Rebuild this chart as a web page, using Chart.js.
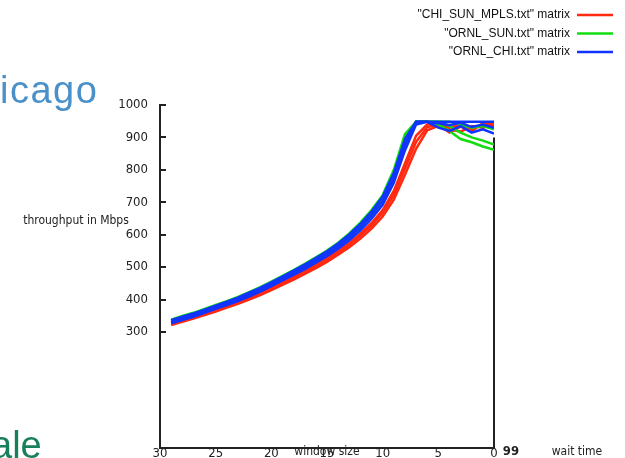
<!DOCTYPE html>
<html>
<head>
<meta charset="utf-8">
<script src="https://cdn.jsdelivr.net/npm/chart.js@4.4.1/dist/chart.umd.min.js"></script>
<style>
  body { margin: 0; background: #fff; }
  #wrap { width: 625px; height: 458px; overflow: hidden; }
</style>
</head>
<body>
<div id="wrap"><canvas id="myChart" width="625" height="458"></canvas></div>
<script>
// window size (x axis, drawn reversed: 30 on the left, 0 on the right)
const windowSizes = [29, 28, 27, 26, 25, 24, 23, 22, 21, 20, 19, 18, 17, 16, 15, 14, 13, 12, 11, 10, 9, 8, 7, 6, 5, 4, 3, 2, 1, 0];
const xTicks = [30, 25, 20, 15, 10, 5, 0];
const yTicks = [300, 400, 500, 600, 700, 800, 900, 1000];

// throughput in Mbps, a few rows (wait times) of each matrix
const chiSunMpls1 = [325, 335, 345, 356, 367, 379, 391, 404, 418, 433, 449, 466, 484, 503, 523, 545, 569, 597, 629, 668, 722, 804, 886, 932, 940, 915, 933, 926, 938, 944];
const chiSunMpls2 = [321, 331, 341, 352, 363, 375, 387, 400, 414, 429, 445, 461, 479, 497, 516, 538, 561, 588, 619, 656, 708, 785, 865, 922, 936, 925, 918, 935, 930, 940];
const chiSunMpls3 = [328, 338, 348, 359, 370, 382, 394, 407, 421, 437, 453, 470, 488, 507, 527, 549, 574, 603, 636, 676, 735, 820, 905, 940, 944, 930, 940, 920, 944, 935];

const ornlSun1 = [334, 345, 355, 367, 379, 391, 404, 419, 434, 451, 469, 487, 506, 526, 547, 571, 599, 631, 669, 714, 790, 898, 948, 948, 948, 935, 915, 900, 890, 878];
const ornlSun2 = [338, 349, 359, 371, 383, 395, 408, 423, 438, 455, 473, 491, 510, 530, 551, 575, 604, 637, 676, 722, 800, 910, 948, 948, 940, 920, 895, 885, 872, 862];
const ornlSun3 = [330, 341, 351, 363, 375, 387, 399, 414, 429, 446, 464, 481, 500, 520, 540, 564, 591, 622, 659, 703, 772, 875, 948, 948, 948, 948, 940, 930, 935, 925];

const ornlChi1 = [331, 342, 352, 364, 376, 388, 400, 415, 430, 447, 465, 482, 501, 521, 541, 565, 592, 623, 660, 705, 775, 878, 948, 948, 948, 948, 948, 948, 948, 948];
const ornlChi2 = [336, 347, 357, 369, 381, 393, 406, 421, 436, 453, 471, 489, 508, 528, 549, 573, 601, 633, 671, 718, 790, 895, 948, 948, 944, 938, 946, 932, 940, 930];
const ornlChi3 = [327, 337, 347, 359, 371, 383, 395, 409, 424, 441, 459, 476, 494, 514, 534, 557, 583, 613, 649, 692, 760, 860, 940, 948, 930, 920, 935, 915, 925, 912];

const series = [
  { label: '"CHI_SUN_MPLS.txt" matrix', color: '#ff2a10', order: 2, rows: [chiSunMpls1, chiSunMpls2, chiSunMpls3] },
  { label: '"ORNL_SUN.txt" matrix', color: '#11dd11', order: 1, rows: [ornlSun1, ornlSun2, ornlSun3] },
  { label: '"ORNL_CHI.txt" matrix', color: '#1133ff', order: 0, rows: [ornlChi1, ornlChi2, ornlChi3] }
];

const narrow = "'DejaVu Sans Condensed', 'Liberation Sans Narrow', sans-serif";
const axisColor = '#222';

// one line per matrix row
const datasets = [];
series.forEach(s => {
  s.rows.forEach(row => {
    datasets.push({
      label: s.label,
      data: row.map((v, i) => ({ x: windowSizes[i], y: v })),
      borderColor: s.color,
      backgroundColor: s.color,
      borderWidth: 2.5,
      pointRadius: 0,
      tension: 0,
      order: s.order
    });
  });
});

const decor = {
  id: 'decor',
  beforeDatasetsDraw(chart) {
    const ctx = chart.ctx;
    const xs = chart.scales.x, ys = chart.scales.y;
    const left = chart.chartArea.left;
    ctx.save();
    ctx.strokeStyle = axisColor;
    ctx.lineWidth = 2;
    ctx.beginPath();
    // small inward ticks on the throughput axis
    yTicks.forEach(v => {
      const py = Math.round(ys.getPixelForValue(v));
      ctx.moveTo(left, py);
      ctx.lineTo(left + 6, py);
    });
    // right edge of the box, below the surface
    const px = Math.round(xs.getPixelForValue(0));
    ctx.moveTo(px, ys.getPixelForValue(900));
    ctx.lineTo(px, ys.bottom);
    ctx.stroke();
    ctx.restore();
  },
  afterDraw(chart) {
    const ctx = chart.ctx;
    const xs = chart.scales.x;
    ctx.save();

    // key, top right
    ctx.font = "12px 'Liberation Sans', Arial, sans-serif";
    ctx.textAlign = 'right';
    ctx.textBaseline = 'middle';
    series.forEach((s, i) => {
      const y = 15 + i * 18.5;
      ctx.fillStyle = '#111';
      ctx.fillText(s.label, 570, y);
      ctx.strokeStyle = s.color;
      ctx.lineWidth = 2.5;
      ctx.beginPath();
      ctx.moveTo(577, y);
      ctx.lineTo(613, y);
      ctx.stroke();
    });

    // axis labels
    ctx.fillStyle = axisColor;
    ctx.font = '12px ' + narrow;
    ctx.textAlign = 'center';
    ctx.fillText('throughput in Mbps', 76, 221);
    ctx.fillText('window size', xs.getPixelForValue(15), 452);
    ctx.fillText('wait time', 577, 452);
    ctx.font = 'bold 13px ' + narrow;
    ctx.fillText('99', 511, 452);

    // slide text cut by the crop
    ctx.textAlign = 'left';
    ctx.textBaseline = 'alphabetic';
    ctx.font = "38px 'Liberation Sans', Arial, sans-serif";
    ctx.letterSpacing = '1.5px';
    ctx.fillStyle = '#4a90c9';
    ctx.fillText('icago', 0, 103);
    ctx.letterSpacing = '0px';
    ctx.fillStyle = '#17805a';
    ctx.fillText('ale', -9, 458);
    ctx.restore();
  }
};

const ctx = document.getElementById('myChart').getContext('2d');
const myChart = new Chart(ctx, {
  type: 'line',
  data: { datasets: datasets },
  plugins: [decor],
  options: {
    responsive: false,
    animation: false,
    layout: { padding: { left: 100, right: 131, top: 105, bottom: 0 } },
    plugins: {
      legend: { display: false },
      tooltip: { enabled: false }
    },
    scales: {
      x: {
        type: 'linear',
        reverse: true,
        min: 0,
        max: 30,
        afterFit: scale => { scale.height = 10; scale.paddingLeft = 0; scale.paddingRight = 0; },
        afterBuildTicks: scale => { scale.ticks = xTicks.map(v => ({ value: v })); },
        grid: { display: false, drawTicks: false },
        border: { display: true, color: axisColor, width: 2 },
        ticks: { color: axisColor, padding: -2, font: { family: narrow, size: 13 }, maxRotation: 0, autoSkip: false }
      },
      y: {
        min: -58,
        max: 1000,
        afterFit: scale => { scale.width = 60; scale.paddingTop = 0; scale.paddingBottom = 0; },
        afterBuildTicks: scale => { scale.ticks = yTicks.map(v => ({ value: v })); },
        grid: { display: false, drawTicks: false },
        border: { display: true, color: axisColor, width: 2 },
        ticks: { color: axisColor, padding: 12, font: { family: narrow, size: 13 }, callback: v => String(v) }
      }
    }
  }
});
</script>
</body>
</html>
